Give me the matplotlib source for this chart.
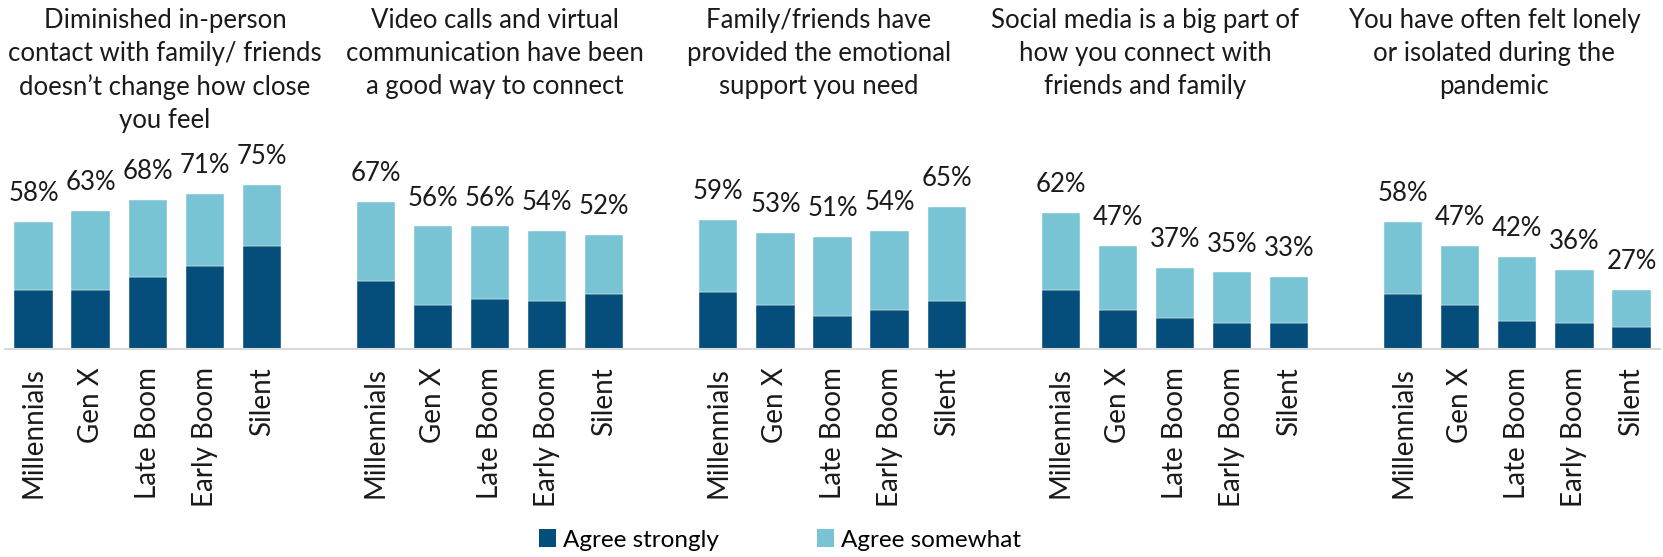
import matplotlib
matplotlib.use("Agg")
import matplotlib.pyplot as plt
from matplotlib.patches import Patch

plt.rcParams['font.family'] = ['Lato', 'DejaVu Sans']

titles = [
    "Diminished in-person\ncontact with family/ friends\ndoesn\u2019t change how close\nyou feel",
    "Video calls and virtual\ncommunication have been\na good way to connect",
    "Family/friends have\nprovided the emotional\nsupport you need",
    "Social media is a big part of\nhow you connect with\nfriends and family",
    "You have often felt lonely\nor isolated during the\npandemic",
]
generations = ["Millennials", "Gen X", "Late Boom", "Early Boom", "Silent"]

# Total agreement (strongly + somewhat), per statement and generation
totals = [
    [58, 63, 68, 71, 75],
    [67, 56, 56, 54, 52],
    [59, 53, 51, 54, 65],
    [62, 47, 37, 35, 33],
    [58, 47, 42, 36, 27],
]
# "Agree strongly" share of each total
strongly = [
    [27, 27, 33, 38, 47],
    [31, 20, 23, 22, 25],
    [26, 20, 15, 18, 22],
    [27, 18, 14, 12, 12],
    [25, 20, 13, 12, 10],
]

DARK = "#054d7b"
LIGHT = "#78c4d4"
TEXT = "#1a1a1a"

W, H = 1663, 557
fig = plt.figure(figsize=(W / 100, H / 100), dpi=100)

ymax = 80
px_per_unit = 2.19
ax_left, ax_right, ax_bottom = 5, 1660, 349
ax = fig.add_axes([ax_left / W, (H - ax_bottom) / H,
                   (ax_right - ax_left) / W, ymax * px_per_unit / H])

n_groups = len(titles)
n_bars = len(generations)
xs, labels = [], []
for g in range(n_groups):
    for b in range(n_bars):
        x = g * (n_bars + 1) + b
        s = strongly[g][b]
        t = totals[g][b]
        ax.bar(x, s, width=0.67, color=DARK, edgecolor="white", linewidth=0.3)
        ax.bar(x, t - s, bottom=s, width=0.67, color=LIGHT, edgecolor="white", linewidth=0.3)
        ax.annotate(f"{t}%", (x, t), xytext=(0, 15), textcoords="offset points",
                    ha="center", va="baseline", fontsize=18.5, color=TEXT)
        xs.append(x)
        labels.append(generations[b])

ax.set_xlim(-0.5, n_groups * (n_bars + 1) - 1 - 0.5)
ax.set_ylim(0, ymax)
ax.set_xticks(xs, labels, rotation=90, fontsize=20, color=TEXT)
ax.tick_params(axis="x", length=0, pad=13)
ax.set_yticks([])
for side in ("top", "right", "left"):
    ax.spines[side].set_visible(False)
ax.spines["bottom"].set_color("#d9d9d9")
ax.spines["bottom"].set_linewidth(1.5)

title_centers = [165, 495, 819, 1145, 1494]
for cx, t in zip(title_centers, titles):
    fig.text(cx / W, 1 - 8 / H, t, ha="center", va="top", fontsize=18.5,
             color=TEXT, linespacing=1.4)

handles = [Patch(facecolor=DARK, label="Agree strongly"),
           Patch(facecolor=LIGHT, label="Agree somewhat")]
fig.legend(handles=handles, loc="center", bbox_to_anchor=(780 / W, 1 - 540 / H),
           ncol=2, frameon=False, fontsize=17.5, handlelength=0.7, handleheight=0.7,
           handletextpad=0.3, columnspacing=4.0)

fig.savefig("out.png", dpi=100)
